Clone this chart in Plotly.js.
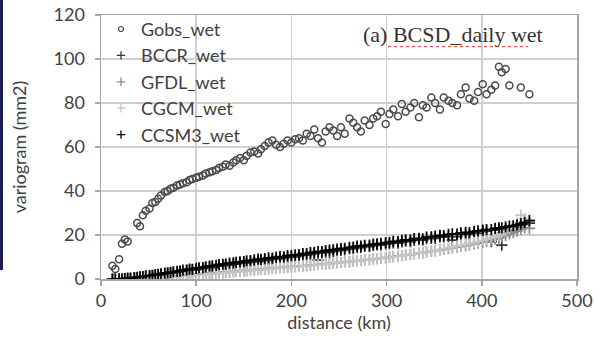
<!DOCTYPE html>
<html><head><meta charset="utf-8">
<script src="https://cdn.plot.ly/plotly-3.0.1.min.js"></script>
<style>html,body{margin:0;padding:0;background:#fff;}#bar{position:absolute;left:0;top:0;width:3px;height:270px;background:#1b1b5a;z-index:5;}#chart{width:596px;height:338px;}</style>
</head><body><div id="bar"></div><div id="chart"></div>
<script>
// distance bins (km)
const dist = [12,15,19,22,25,28,31,35,38,41,
  44,47,51,54,57,60,63,67,70,73,
  76,80,83,86,90,93,96,100,103,107,
  110,114,117,121,124,128,131,135,139,142,
  146,150,153,157,161,165,168,172,176,180,
  184,188,192,196,200,204,208,212,216,220,
  224,228,232,236,240,244,248,252,256,261,
  265,269,273,277,282,286,290,294,299,303,
  307,312,316,320,325,329,334,338,342,347,
  351,356,360,365,369,374,378,383,387,392,
  396,401,405,410,414,418,421,425,429,433,
  437,441,445,450];
const gobs = [6,4.5,9,16,18,17,null,null,25.4,24,
  29,31,32,34.5,35,36.5,38,39.5,40,41,
  41.5,42.5,43,43.5,44,45,45.5,46,46.5,47,
  48,48.5,49,49.5,50.5,51,52,51.5,53,54,
  55,54,56,57.5,58,57,59,60.5,62,63,
  61,60,61.5,63,62,63.5,64,63,66,65,
  68,64,62,67,69,67.5,65,69,66,73,
  71,69,67,72,70,73,74,76,70.5,75,
  77,74,79.5,76,78,80,73.5,79,78,82.5,
  80,77,82.5,81,80,79,84,87,82,81,
  85,88.5,84,86,88,96.5,94,95.5,88,null,
  null,87,null,84];
const bccr = [0,0,0,0.1,0.2,0.1,0.4,0.5,0.6,0.9,
  0.9,1.2,1.3,1.6,1.7,1.9,2.1,2.4,2.5,2.8,
  2.9,3.2,3.5,3.4,3.9,4.0,4.2,4.3,4.7,4.8,
  5.1,5.3,5.2,5.8,5.9,6.0,6.5,6.3,6.8,7.0,
  7.1,7.4,7.3,7.8,8.1,7.9,8.4,8.6,8.5,9.0,
  9.2,9.1,9.6,9.8,10.1,10.0,10.5,10.8,11.0,11.2,
  11.5,8.6,11.9,12.2,12.1,12.6,12.9,13.0,13.2,13.7,
  13.8,14.3,14.2,14.8,14.7,15.2,15.5,15.4,16.0,16.1,
  16.4,16.3,16.9,17.2,17.0,17.6,17.9,17.7,18.3,18.5,
  18.4,19.0,19.1,19.4,17.7,19.2,20.2,20.4,20.3,21.0,
  20.8,21.5,21.8,17.0,22.3,22.4,15.4,22.9,22.0,23.6,
  23.4,24.3,24.8,25.4];
const gfdl = [0,0,0,0,0,0.1,0.1,0.2,0.2,0.3,
  0.3,0.4,0.5,0.6,0.5,0.7,0.8,0.9,1.0,1.1,
  1.2,1.3,1.5,1.5,1.7,1.8,1.9,2.0,2.2,2.2,
  2.4,2.5,2.7,2.7,2.9,3.0,3.2,3.1,3.4,3.5,
  3.6,3.8,3.8,4.1,4.1,4.4,4.4,4.6,4.8,4.9,
  5.0,5.2,5.3,5.4,5.6,5.7,5.9,6.0,6.1,6.3,
  6.4,6.6,6.7,6.9,7.1,7.2,7.4,7.5,7.8,7.9,
  8.1,8.3,8.4,8.7,8.8,9.1,9.2,9.5,9.7,9.9,
  10.2,10.4,10.6,10.9,11.1,11.4,11.7,11.9,12.3,12.5,
  12.8,13.2,13.4,13.8,14.1,14.5,14.8,15.2,15.5,15.9,
  16.3,16.7,17.2,17.6,18.1,18.6,19.2,19.8,20.5,21.1,
  21.8,22.5,23.2,23.0];
const cgcm = [0,0,0,0,0,0,0.1,0.1,0.2,0.2,
  0.3,0.3,0.4,0.5,0.5,0.6,0.7,0.7,0.9,0.9,
  1.0,1.1,1.3,1.3,1.4,1.6,1.6,1.8,1.9,2.0,
  2.1,2.3,2.3,2.5,2.6,2.7,2.9,3.0,3.1,3.3,
  3.4,3.5,3.7,3.8,4.0,4.1,4.2,4.4,4.5,4.7,
  4.8,5.0,5.1,5.2,5.4,5.5,5.7,5.8,6.0,6.1,
  6.3,6.4,6.6,6.8,6.9,7.1,7.3,7.4,7.6,7.8,
  8.0,8.2,8.3,8.6,8.7,9.0,9.2,9.4,9.7,9.9,
  10.1,10.4,10.6,10.9,11.2,11.4,11.8,12.0,12.4,12.7,
  13.0,13.4,13.7,14.1,14.4,14.9,15.3,15.7,16.1,16.6,
  17.0,17.5,18.1,18.7,19.4,20.1,21.0,21.9,23.0,24.2,
  25.6,29.0,27.5,26.8];
const ccsm3 = [0,0,0.1,0,0.2,0.4,0.3,0.6,0.8,1.0,
  1.1,1.4,1.5,1.7,2.0,2.1,2.3,2.7,2.8,3.0,
  3.3,3.5,3.6,4.0,4.1,4.5,4.4,4.8,5.1,5.2,
  5.5,5.9,6.0,6.2,6.5,6.7,6.8,7.2,7.3,7.6,
  7.8,7.9,8.3,8.4,8.7,9.0,8.9,9.3,9.6,9.5,
  9.9,10.2,10.1,10.6,10.7,11.0,11.1,11.5,11.6,12.0,
  12.1,12.5,12.4,12.9,13.1,13.3,13.6,13.8,13.9,14.4,
  14.5,14.9,15.0,15.3,15.4,15.9,16.0,16.2,16.6,16.7,
  17.1,17.0,17.6,17.8,17.7,18.4,18.5,18.3,19.0,19.2,
  19.5,19.8,19.7,20.3,20.5,20.4,21.0,21.2,21.1,21.7,
  21.9,22.2,22.5,22.4,23.0,23.3,23.2,23.7,24.0,24.2,
  24.6,25.1,25.7,26.5];
const seriesNames = ["Gobs_wet","BCCR_wet","GFDL_wet","CGCM_wet","CCSM3_wet"];
const xTicks = [0,100,200,300,400,500];
const yTicks = [0,20,40,60,80,100,120];

const colors = ['#4a4a4a', '#333333', '#8c8c8c', '#c4c4c4', '#000000'];
const yData = [gobs, bccr, gfdl, cgcm, ccsm3];

const traces = [];
yData.forEach(function (y, i) {
  const isCircle = i === 0;
  traces.push({x: dist, y: y, name: seriesNames[i], type: 'scatter', mode: 'markers', showlegend: false,
    marker: isCircle
      ? {symbol: 'circle-open', size: 7, color: colors[i], line: {color: colors[i], width: 1.5}}
      : {symbol: 'cross-thin-open', size: 8, color: colors[i], line: {color: colors[i], width: 1.7}}});
});
// legend entries with smaller symbols (no data drawn)
yData.forEach(function (y, i) {
  const isCircle = i === 0;
  traces.push({x: [null], y: [null], name: seriesNames[i], type: 'scatter', mode: 'markers', showlegend: true,
    marker: isCircle
      ? {symbol: 'circle-open', size: 5, color: colors[i], line: {color: colors[i], width: 1.2}}
      : {symbol: 'cross-thin-open', size: 6, color: colors[i], line: {color: colors[i], width: 1.3}}});
});

const axisFont = {family: 'Lato, "Open Sans", sans-serif', size: 18, color: '#404040'};
const layout = {
  width: 596, height: 338,
  margin: {l: 101, r: 19, t: 14, b: 59},
  paper_bgcolor: '#ffffff', plot_bgcolor: '#ffffff',
  showlegend: true,
  legend: {x: 0.0, y: 1.012, xanchor: 'left', yanchor: 'top', bgcolor: 'rgba(0,0,0,0)',
    font: {family: 'Lato, "Open Sans", sans-serif', size: 18, color: '#404040'}, tracegroupgap: 0},
  xaxis: {range: [0, 500], tickvals: xTicks, ticktext: xTicks.map(String),
    showgrid: true, gridcolor: '#cfcfcf', gridwidth: 1.5, zeroline: false,
    showline: true, linecolor: '#a6a6a6', linewidth: 1.5, mirror: true,
    ticks: 'outside', ticklen: 5, tickcolor: '#a6a6a6', tickwidth: 1.5,
    tickfont: axisFont, title: {text: 'distance (km)', font: axisFont, standoff: 2}},
  yaxis: {range: [0, 120], tickvals: yTicks, ticktext: yTicks.map(String),
    showgrid: true, gridcolor: '#cfcfcf', gridwidth: 1.5, zeroline: false,
    showline: true, linecolor: '#a6a6a6', linewidth: 1.5, mirror: true,
    ticks: 'outside', ticklen: 5, tickcolor: '#a6a6a6', tickwidth: 1.5, ticklabelstandoff: 6,
    tickfont: axisFont, title: {text: 'variogram (mm2)', font: axisFont, standoff: 22}},
  annotations: [{xref: 'paper', yref: 'paper', x: 0.739, y: 0.925, xanchor: 'center', yanchor: 'middle',
    text: '(a) BCSD_daily wet', showarrow: false,
    font: {family: '"Liberation Serif", "Times New Roman", serif', size: 22, color: '#333333'}}],
  shapes: [{type: 'line', xref: 'paper', yref: 'paper', x0: 0.603, x1: 0.897, y0: 0.88, y1: 0.88,
    line: {color: '#e03030', width: 1, dash: 'dot'}}]
};
Plotly.newPlot('chart', traces, layout, {staticPlot: true, displayModeBar: false});
</script>
</body></html>
